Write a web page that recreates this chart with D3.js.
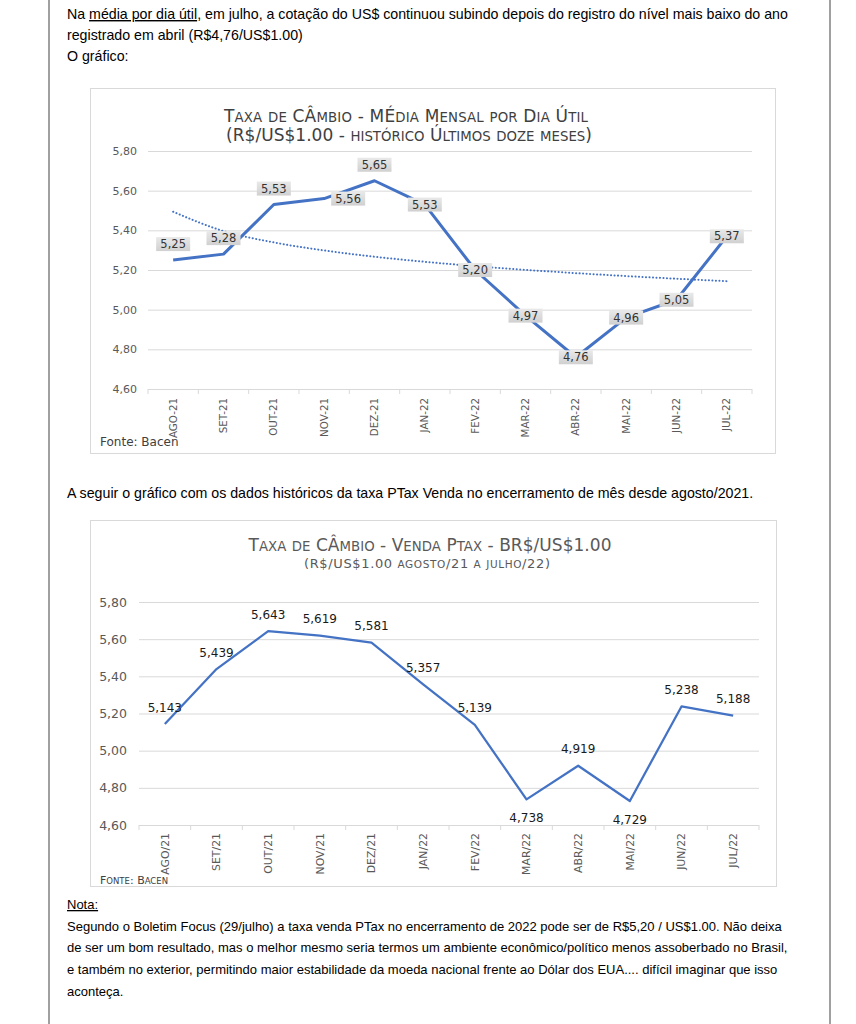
<!DOCTYPE html>
<html>
<head>
<meta charset="utf-8">
<script src="https://cdn.jsdelivr.net/npm/d3@7"></script>
<style>
  body { margin: 0; background: #fff; }
  svg { display: block; }
</style>
</head>
<body>
<svg id="page" width="856" height="1024"></svg>
<script>
// data
const months1 = ["AGO-21", "SET-21", "OUT-21", "NOV-21", "DEZ-21", "JAN-22",
                 "FEV-22", "MAR-22", "ABR-22", "MAI-22", "JUN-22", "JUL-22"];
const mediaMensal = [5.25, 5.28, 5.53, 5.56, 5.65, 5.53, 5.20, 4.97, 4.76, 4.96, 5.05, 5.37];
const labelPos1 = ["above", "above", "above", "right", "above", "center",
                   "center", "center", "center", "center", "center", "center"];

const months2 = ["AGO/21", "SET/21", "OUT/21", "NOV/21", "DEZ/21", "JAN/22",
                 "FEV/22", "MAR/22", "ABR/22", "MAI/22", "JUN/22", "JUL/22"];
const ptaxVenda = [5.143, 5.439, 5.643, 5.619, 5.581, 5.357, 5.139, 4.738, 4.919, 4.729, 5.238, 5.188];
const labelPos2 = ["above", "above", "above", "above", "above", "above",
                   "above", "below", "above", "below", "above", "above"];

const yTicks = [4.6, 4.8, 5.0, 5.2, 5.4, 5.6, 5.8];

const locale = d3.formatLocale({ decimal: ",", thousands: ".", grouping: [3], currency: ["R$", ""] });
const fmt2 = locale.format(".2f");
const fmt3 = locale.format(".3f");

const blue = "#4472c4";
const sans = "'DejaVu Sans', Verdana, sans-serif";
const svg = d3.select("#page");

svg.append("rect").attr("width", 856).attr("height", 1024).attr("fill", "#fff");

// page frame (left and right rules of the document page)
[49, 830].forEach(x => {
  svg.append("line")
    .attr("x1", x).attr("x2", x).attr("y1", 0).attr("y2", 1024)
    .attr("stroke", "#808080").attr("stroke-width", 1.5);
});

// body text, one entry per line, parts flagged for underline
function writeLines(lines, x, y, lineHeight, size) {
  lines.forEach((parts, i) => {
    const t = svg.append("text")
      .attr("x", x).attr("y", y + i * lineHeight)
      .style("font-family", "'Liberation Sans', Arial, sans-serif")
      .style("font-size", size + "px")
      .attr("fill", "#000");
    parts.forEach(p => {
      t.append("tspan")
        .style("text-decoration", p[1] ? "underline" : "none")
        .text(p[0]);
    });
  });
}

writeLines([
  [["Na "], ["média por dia útil", true], [", em julho, a cotação do US$ continuou subindo depois do registro do nível mais baixo do ano"]],
  [["registrado em abril (R$4,76/US$1.00)"]],
  [["O gráfico:"]]
], 67, 19, 21, 14.2);

writeLines([
  [["A seguir o gráfico com os dados históricos da taxa PTax Venda no encerramento de mês desde agosto/2021."]]
], 67, 498, 21, 14.2);

writeLines([
  [["Nota:", true]],
  [["Segundo o Boletim Focus (29/julho) a taxa venda PTax no encerramento de 2022 pode ser de R$5,20 / US$1.00. Não deixa"]],
  [["de ser um bom resultado, mas o melhor mesmo seria termos um ambiente econômico/político menos assoberbado no Brasil,"]],
  [["e também no exterior, permitindo maior estabilidade da moeda nacional frente ao Dólar dos EUA.... difícil imaginar que isso"]],
  [["aconteça."]]
], 67, 909, 21.7, 13);

// small caps the way the office chart draws them: lowercase runs become smaller capitals
function smallCaps(x, y, str, big, small, width, color) {
  const t = svg.append("text")
    .attr("x", x).attr("y", y)
    .attr("text-anchor", "middle")
    .attr("fill", color)
    .style("font-family", sans);
  if (width) t.attr("textLength", width).attr("lengthAdjust", "spacing");
  str.match(/[a-zà-ÿ]+|[^a-zà-ÿ]+/g).forEach(run => {
    const lower = /[a-zà-ÿ]/.test(run[0]);
    t.append("tspan")
      .style("font-size", (lower ? small : big) + "px")
      .text(lower ? run.toUpperCase() : run);
  });
  return t;
}

// gradient for the grey data-label boxes of chart 1
const grad = svg.append("defs").append("linearGradient")
  .attr("id", "lblGrad").attr("x1", 0).attr("x2", 0).attr("y1", 0).attr("y2", 1);
grad.append("stop").attr("offset", "0%").attr("stop-color", "#e9e9e9");
grad.append("stop").attr("offset", "100%").attr("stop-color", "#d0d0d0");

// shared frame: box, gridlines + y labels, x ticks + rotated month labels
function drawFrame(c) {
  svg.append("rect")
    .attr("x", c.box[0] + 0.5).attr("y", c.box[1] + 0.5)
    .attr("width", c.box[2]).attr("height", c.box[3])
    .attr("fill", "#fff").attr("stroke", "#d9d9d9");

  const x = d3.scaleBand().domain(c.months).range([c.plot[0], c.plot[1]]);
  const y = d3.scaleLinear().domain([4.6, 5.8]).range([c.plot[3], c.plot[2]]);

  const gy = svg.append("g")
    .attr("transform", `translate(${c.plot[0]},0)`)
    .call(d3.axisLeft(y).tickValues(yTicks).tickFormat(fmt2)
      .tickSize(-(c.plot[1] - c.plot[0])).tickPadding(c.yPad));
  gy.select(".domain").remove();
  gy.selectAll("line").attr("stroke", "#d9d9d9");
  gy.selectAll("text")
    .attr("fill", "#595959")
    .style("font-family", sans)
    .style("font-size", c.yFont + "px");

  // tick marks sit on the category boundaries
  const bounds = c.months.map(m => x(m)).concat([c.plot[1]]);
  svg.append("g").selectAll("line").data(bounds).join("line")
    .attr("x1", d => d).attr("x2", d => d)
    .attr("y1", c.plot[3]).attr("y2", c.plot[3] + 5)
    .attr("stroke", "#d9d9d9");

  const gx = svg.append("g")
    .attr("transform", `translate(0,${c.plot[3]})`)
    .call(d3.axisBottom(x).tickSize(0).tickPadding(0));
  gx.select(".domain").remove();
  gx.selectAll("text")
    .attr("text-anchor", "end")
    .attr("transform", "rotate(-90)")
    .attr("x", -c.xLabelGap).attr("y", 0).attr("dy", "0.35em")
    .attr("fill", "#595959")
    .style("font-family", sans)
    .style("font-size", c.xFont + "px");

  return { x, y, px: d => x(d) + x.bandwidth() / 2 };
}

// ---------- chart 1: média mensal por dia útil ----------
const c1 = drawFrame({
  box: [90, 88, 685, 365], plot: [148, 752, 151, 389],
  months: months1, yPad: 11, yFont: 11, xFont: 10.3, xLabelGap: 9
});

smallCaps(406, 122, "Taxa de CÂmbio - MÉdia Mensal por Dia Útil", 17, 13.3, 364, "#404040");
smallCaps(409, 141, "(R$/US$1.00 - histórico Últimos doze meses)", 17, 13.3, 366, "#404040");

// logarithmic trend fitted to the monthly averages
const lnX = mediaMensal.map((v, i) => Math.log(i + 1));
const mx = d3.mean(lnX), my = d3.mean(mediaMensal);
const slope = d3.sum(lnX, (l, i) => (l - mx) * (mediaMensal[i] - my)) / d3.sum(lnX, l => (l - mx) * (l - mx));
const intercept = my - slope * mx;
const trend = lnX.map(l => intercept + slope * l);

svg.append("path")
  .datum(trend)
  .attr("fill", "none")
  .attr("stroke", blue)
  .attr("stroke-width", 2)
  .attr("stroke-dasharray", "0.1,3.4")
  .attr("stroke-linecap", "round")
  .attr("d", d3.line().x((d, i) => c1.px(months1[i])).y(d => c1.y(d)).curve(d3.curveMonotoneX));

svg.append("path")
  .datum(mediaMensal)
  .attr("fill", "none")
  .attr("stroke", blue)
  .attr("stroke-width", 3)
  .attr("stroke-linejoin", "round")
  .attr("d", d3.line().x((d, i) => c1.px(months1[i])).y(d => c1.y(d)));

mediaMensal.forEach((v, i) => {
  let cx = c1.px(months1[i]), cy = c1.y(v);
  if (labelPos1[i] === "above") cy -= 16;
  if (labelPos1[i] === "right") cx += 24;
  svg.append("rect")
    .attr("x", cx - 17).attr("y", cy - 7)
    .attr("width", 34).attr("height", 14)
    .attr("fill", "url(#lblGrad)");
  svg.append("text")
    .attr("x", cx).attr("y", cy).attr("dy", "0.36em")
    .attr("text-anchor", "middle")
    .attr("fill", "#333")
    .style("font-family", sans)
    .style("font-size", "11.5px")
    .text(fmt2(v));
});

svg.append("text")
  .attr("x", 100).attr("y", 446)
  .attr("fill", "#404040")
  .style("font-family", sans)
  .style("font-size", "12px")
  .text("Fonte: Bacen");

// ---------- chart 2: PTax venda no fim do mês ----------
const c2 = drawFrame({
  box: [90, 520, 686, 366], plot: [139, 759, 602, 825],
  months: months2, yPad: 12, yFont: 12.5, xFont: 10.9, xLabelGap: 8
});

smallCaps(430, 551, "Taxa de CÂmbio - Venda Ptax -  BR$/US$1.00", 17, 13.3, 363, "#595959");
smallCaps(427, 568, "(R$/US$1.00 agosto/21 a julho/22)", 13, 10.5, 246, "#595959");

svg.append("path")
  .datum(ptaxVenda)
  .attr("fill", "none")
  .attr("stroke", blue)
  .attr("stroke-width", 2.25)
  .attr("stroke-linejoin", "round")
  .attr("d", d3.line().x((d, i) => c2.px(months2[i])).y(d => c2.y(d)));

svg.append("g").selectAll("text").data(ptaxVenda).join("text")
  .attr("x", (d, i) => c2.px(months2[i]))
  .attr("y", (d, i) => c2.y(d) + (labelPos2[i] === "below" ? 22.5 : -12.5))
  .attr("text-anchor", "middle")
  .attr("fill", "#1a1a1a")
  .style("font-family", sans)
  .style("font-size", "12px")
  .text(d => fmt3(d));

smallCaps(134, 884, "Fonte: Bacen", 11, 8.5, 68, "#404040");
</script>
</body>
</html>
